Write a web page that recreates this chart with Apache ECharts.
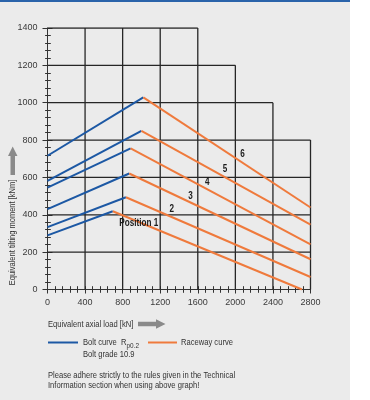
<!DOCTYPE html>
<html>
<head>
<meta charset="utf-8">
<script src="https://cdn.jsdelivr.net/npm/echarts@6/dist/echarts.min.js"></script>
<style>
html,body{margin:0;padding:0;background:#fff;}
#chart{width:370px;height:400px;background:linear-gradient(#2a63aa,#2a63aa) 0 0/350px 2px no-repeat,linear-gradient(to right,#ebebeb 0,#ebebeb 350px,#fff 350px);}
</style>
</head>
<body>
<div id="chart"></div>
<script>
// ---- data ----
const xTicks = [0, 400, 800, 1200, 1600, 2000, 2400, 2800];
const yTicks = [0, 200, 400, 600, 800, 1000, 1200, 1400];
// stepped grid: height of each vertical grid line, length of each horizontal grid line
const gridColumnTop = [1400, 1400, 1400, 1400, 1400, 1200, 1000, 800];
const gridRowEnd = [2800, 2800, 2800, 2800, 2800, 2400, 2000, 1600];

const boltStartMoment = [290, 334, 430, 545, 581, 716];
const peakLoad = [695, 835, 870, 885, 1000, 1020];
const peakMoment = [419, 494, 621, 756, 849, 1029];
const racewayEndLoad = [2710, 2800, 2800, 2800, 2800, 2800];
const racewayEndMoment = [0, 67, 162, 241, 347, 439];

const curveLabels = ['Position 1', '2', '3', '4', '5', '6'];
const labelLoad = [972, 1323, 1523, 1700, 1890, 2075];
const labelMoment = [356, 431, 499, 574, 642, 722];

// ---- styles ----
const FONT = "'Liberation Sans',Arial,sans-serif";
const SX = 0.8; // horizontal condensing of text
const BLUE = '#1c58a4';
const ORANGE = '#ef7a3c';
const GRIDC = '#262626';

const series = [];
// grid lines
xTicks.forEach((x, i) => {
  if (i === 0) return;
  series.push({type: 'line', silent: true, symbol: 'none', z: 1,
    lineStyle: {color: GRIDC, width: 1.3}, data: [[x, 0], [x, gridColumnTop[i]]]});
});
yTicks.forEach((y, i) => {
  if (i === 0) return;
  series.push({type: 'line', silent: true, symbol: 'none', z: 1,
    lineStyle: {color: GRIDC, width: 1.3}, data: [[0, y], [gridRowEnd[i], y]]});
});
// curves
for (let i = 0; i < boltStartMoment.length; i++) {
  series.push({name: 'Bolt curve', type: 'line', symbol: 'none', z: 3,
    lineStyle: {color: BLUE, width: 2}, data: [[0, boltStartMoment[i]], [peakLoad[i], peakMoment[i]]]});
  series.push({name: 'Raceway curve', type: 'line', symbol: 'none', z: 3,
    lineStyle: {color: ORANGE, width: 2}, data: [[peakLoad[i], peakMoment[i]], [racewayEndLoad[i], racewayEndMoment[i]]]});
}
// curve labels
series.push({type: 'custom', z: 4, silent: true,
  data: labelLoad.map((x, i) => [x, labelMoment[i]]),
  renderItem: function (params, api) {
    const p = api.coord([api.value(0), api.value(1)]);
    return {type: 'text', x: p[0], y: p[1], scaleX: SX,
      style: {text: curveLabels[params.dataIndex], fill: '#1b1b1b',
        font: 'bold 10.2px ' + FONT, align: 'center', verticalAlign: 'middle'}};
  }});

const axisColor = '#333';
const labelStyle = {color: '#3a3a3a', fontFamily: FONT, fontSize: 9, formatter: v => String(v)};

function txt(x, y, s, size, extra) {
  return Object.assign({type: 'text', x: x, y: y, scaleX: SX,
    style: {text: s, fill: '#333', font: size + 'px ' + FONT, align: 'left', verticalAlign: 'middle'}}, extra || {});
}

const chart = echarts.init(document.getElementById('chart'), null, {renderer: 'canvas'});
chart.setOption({
  animation: false,
  backgroundColor: 'transparent',
  grid: {left: 47.5, top: 28, width: 263, height: 261.5, containLabel: false},
  xAxis: [
    {type: 'value', min: 0, max: 2800, interval: 400, position: 'bottom',
      axisLine: {show: true, lineStyle: {color: axisColor, width: 1}},
      axisTick: {show: true, length: 4, lineStyle: {color: axisColor}},
      minorTick: {show: true, splitNumber: 5, length: 3.3, lineStyle: {color: axisColor}},
      splitLine: {show: false},
      axisLabel: Object.assign({margin: 9}, labelStyle)},
    {type: 'value', min: 0, max: 2800, interval: 400, position: 'bottom', gridIndex: 0,
      axisLine: {show: false}, axisLabel: {show: false}, splitLine: {show: false},
      axisTick: {show: true, inside: true, length: 3.3, lineStyle: {color: axisColor}},
      minorTick: {show: true, splitNumber: 5, length: 3.3, lineStyle: {color: axisColor}}}
  ],
  yAxis: [
    {type: 'value', min: 0, max: 1400, interval: 200, position: 'left',
      axisLine: {show: true, lineStyle: {color: axisColor, width: 1}},
      axisTick: {show: true, length: 5, lineStyle: {color: axisColor}},
      minorTick: {show: true, splitNumber: 5, length: 2.4, lineStyle: {color: axisColor}},
      splitLine: {show: false},
      axisLabel: Object.assign({margin: 10}, labelStyle)},
    {type: 'value', min: 0, max: 1400, interval: 200, position: 'left', gridIndex: 0,
      axisLine: {show: false}, axisLabel: {show: false}, splitLine: {show: false},
      axisTick: {show: true, inside: true, length: 5, lineStyle: {color: axisColor}},
      minorTick: {show: true, splitNumber: 5, length: 3.3, lineStyle: {color: axisColor}}}
  ],
  series: series,
  graphic: [
    // y title arrow
    {type: 'polygon', shape: {points: [[12.7, 146.5], [8, 156], [10.5, 156], [10.5, 175], [15, 175], [15, 156], [17.5, 156]]},
      style: {fill: '#8a8a8a'}},
    {type: 'text', x: 12.5, y: 232.5, rotation: Math.PI / 2, scaleX: SX,
      style: {text: 'Equivalent tilting moment [kNm]', fill: '#333', font: '9.4px ' + FONT, align: 'center', verticalAlign: 'middle'}},
    // x title + arrow
    txt(48, 324, 'Equivalent axial load [kN]', 9.5),
    {type: 'polygon', shape: {points: [[165.5, 324], [156, 319.3], [156, 321.8], [138, 321.8], [138, 326.2], [156, 326.2], [156, 328.7]]},
      style: {fill: '#8a8a8a'}},
    // legend
    {type: 'line', shape: {x1: 48, y1: 342.5, x2: 78, y2: 342.5}, style: {stroke: BLUE, lineWidth: 2}},
    {type: 'text', x: 83, y: 342.5, scaleX: SX,
      style: {text: 'Bolt curve  R{s|p0.2}', fill: '#333', font: '9.5px ' + FONT, verticalAlign: 'middle',
        rich: {s: {fontSize: 8, fontFamily: FONT, fill: '#333', padding: [7, 0, 0, 0]}}}},
    txt(83, 354, 'Bolt grade 10.9', 9.5),
    {type: 'line', shape: {x1: 148, y1: 342.5, x2: 177, y2: 342.5}, style: {stroke: ORANGE, lineWidth: 2}},
    txt(181, 342, 'Raceway curve', 9.5),
    // note
    txt(48, 375, 'Please adhere strictly to the rules given in the Technical', 9.5),
    txt(48, 385, 'Information section when using above graph!', 9.5)
  ]
});
</script>
</body>
</html>
